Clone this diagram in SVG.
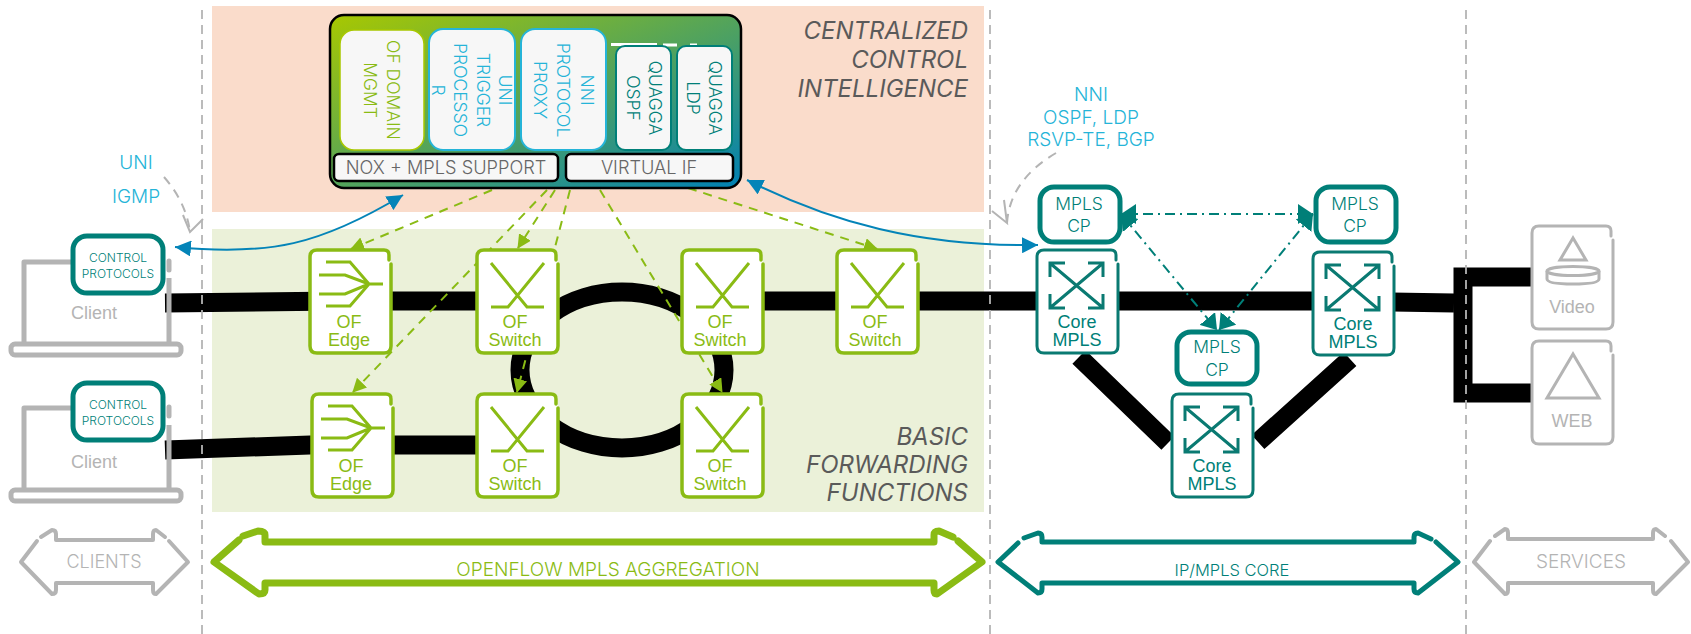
<svg xmlns="http://www.w3.org/2000/svg" width="1691" height="634" viewBox="0 0 1691 634">
<style>
text{font-family:Inter,"Open Sans","Liberation Sans",sans-serif;font-weight:300;text-anchor:middle}
.sans{font-family:"Liberation Sans",Arial,sans-serif;font-weight:400;font-size:18px}
.title{font-style:italic;font-size:24px;font-weight:400;fill:#5a5a5a;text-anchor:end}
.blab{font-size:19px;fill:#25b4d8}
.vtxt{font-size:17.5px;dominant-baseline:central}
.g{fill:#8abb14}.t{fill:#007f78}.gr{fill:#b4b4b4}.b{fill:#25b4d8}.d{fill:#666}
.node{fill:#fff;stroke-linejoin:round}
.ofn{stroke:#8abb14;stroke-width:3.5;fill:none;stroke-linecap:round}
.cn{stroke:#0a7a72;stroke-width:3;fill:none;stroke-linecap:round}
.sn{stroke:#b4b4b4;stroke-width:3;fill:none;stroke-linecap:round}
.cpb{fill:#fff;stroke:#007f78;stroke-width:5}
.inner{fill:#f7f7f7}
.blk{fill:none;stroke:#000;stroke-width:19}
.dash{fill:none;stroke:#b4b4b4;stroke-width:1.8;stroke-dasharray:9 6}
.gd{fill:none;stroke:#8abb14;stroke-width:2;stroke-dasharray:9 7}
.td{fill:none;stroke:#007f78;stroke-width:2;stroke-dasharray:10 5 2 5;marker-start:url(#ts);marker-end:url(#te)}
.bl{fill:none;stroke:#0484b8;stroke-width:2;marker-start:url(#bs);marker-end:url(#be)}
.gc{fill:none;stroke:#b4b4b4;stroke-width:2;stroke-dasharray:9 7}
.ga{fill:none;stroke:#b4b4b4;stroke-width:2}
.lap{fill:none;stroke:#b4b4b4;stroke-width:5;stroke-linejoin:round}
</style>
<defs>
<linearGradient id="ctl" x1="0" y1="0" x2="1" y2="1"><stop offset="0" stop-color="#a8c800"/><stop offset="1" stop-color="#0080b4"/></linearGradient>
<marker id="ge" viewBox="0 0 14 14" refX="13" refY="7" markerWidth="14" markerHeight="14" markerUnits="userSpaceOnUse" orient="auto"><path d="M0 0L14 7L0 14Z" fill="#8abb14"/></marker>
<marker id="te" viewBox="0 0 15 20" refX="15" refY="10" markerWidth="15" markerHeight="20" markerUnits="userSpaceOnUse" orient="auto"><path d="M0 0L15 10L0 20Z" fill="#007f78"/></marker>
<marker id="ts" viewBox="0 0 15 20" refX="0" refY="10" markerWidth="15" markerHeight="20" markerUnits="userSpaceOnUse" orient="auto"><path d="M15 0L0 10L15 20Z" fill="#007f78"/></marker>
<marker id="be" viewBox="0 0 16 16" refX="16" refY="8" markerWidth="16" markerHeight="16" markerUnits="userSpaceOnUse" orient="auto"><path d="M0 0L16 8L0 16Z" fill="#0484b8"/></marker>
<marker id="bs" viewBox="0 0 16 16" refX="0" refY="8" markerWidth="16" markerHeight="16" markerUnits="userSpaceOnUse" orient="auto"><path d="M16 0L0 8L16 16Z" fill="#0484b8"/></marker>
<path id="swi" d="M15 14L51 58H68M68 14L32 58H15" fill="none" stroke="#8abb14" stroke-width="3"/>
<path id="edg" d="M17 13H41L60 35H74M10 26H36L60 35M10 45H36L60 35M17 57H41L60 35" fill="none" stroke="#8abb14" stroke-width="3"/>
<path id="box" d="M80 11V6Q80 1 75 1H8Q1 1 1 8V97Q1 104 8 104H75Q82 104 82 97V15"/>
<g id="cro" fill="none" stroke="#0a7a72" stroke-width="3"><path d="M15 15L66 58M66 15L15 58M14 28V14H29M52 14H67V28M14 45V59H29M52 59H67V45"/></g>
</defs>

<rect x="212" y="6" width="772" height="206" fill="#fadccb"/>
<rect x="212" y="229" width="772" height="283" fill="#ebf1d9"/>

<g id="backbone">
<path class="blk" d="M165 303L340 301H480M760 301H1060L1330 301L1454 303"/>
<path class="blk" d="M165 450L310 445H480"/>
<ellipse class="blk" cx="622" cy="370" rx="102" ry="78"/>
<path class="blk" d="M1079 357L1168 443M1258 442L1350 359"/>
<path class="blk" d="M1531 277H1463V393H1531"/>
</g>

<g id="boundaries">
<path class="dash" d="M202 10V634M990 10V634M1466 10V634"/>
</g>

<g id="connectors">
<path class="gd" d="M492 190L351 249" marker-end="url(#ge)"/>
<path class="gd" d="M555 190L518 248" marker-end="url(#ge)"/>
<path class="gd" d="M570 190L517 392" marker-end="url(#ge)"/>
<path class="gd" d="M547 190L353 392" marker-end="url(#ge)"/>
<path class="gd" d="M600 190L722 392" marker-end="url(#ge)"/>
<path class="gd" d="M688 188L877 249" marker-end="url(#ge)"/>
<path class="bl" d="M175 247C270 256 320 245 403 195"/>
<path class="bl" d="M747 180C830 222 920 247 1038 245"/>
<path class="td" d="M1121 214H1313"/>
<path class="td" d="M1121 214L1217 330"/>
<path class="td" d="M1313 214L1219 330"/>
<path class="gc" d="M164 177Q186 202 190 232"/>
<path class="ga" d="M183 215L190 232L203 219"/>
<path class="gc" d="M1056 153Q1010 180 1007 223"/>
<path class="ga" d="M1004 200L1007 223L992 211"/>
</g>

<g id="controller">
<rect x="330" y="15" width="411" height="173" rx="14" fill="url(#ctl)" stroke="#000" stroke-width="2.5"/>
<path d="M611 44.500H657M663 45H677M690 45H697" stroke="#fff" stroke-width="3" fill="none"/>
<rect class="inner" x="340" y="30" width="84" height="120" rx="14" stroke="#a8c800" stroke-width="1.5"/>
<rect class="inner" x="429" y="29" width="86" height="121" rx="14" stroke="#25b4d8" stroke-width="2"/>
<rect class="inner" x="521" y="29" width="85" height="121" rx="14" stroke="#25b4d8" stroke-width="2"/>
<rect class="inner" x="616" y="46" width="55" height="104" rx="9" stroke="#007f78" stroke-width="2"/>
<rect class="inner" x="677" y="46" width="55" height="104" rx="9" stroke="#007f78" stroke-width="2"/>
<rect class="inner" x="334" y="154" width="224" height="27" rx="5" stroke="#000" stroke-width="2.5"/>
<rect class="inner" x="566" y="154" width="167" height="27" rx="5" stroke="#000" stroke-width="2.5"/>
<text class="vtxt g" transform="translate(393 90) rotate(90)">OF DOMAIN</text>
<text class="vtxt g" transform="translate(370 90) rotate(90)">MGMT</text>
<text class="vtxt b" transform="translate(505 90) rotate(90)">UNI</text>
<text class="vtxt b" transform="translate(483 90) rotate(90)">TRIGGER</text>
<text class="vtxt b" transform="translate(460 90) rotate(90)">PROCESSO</text>
<text class="vtxt b" transform="translate(438 90) rotate(90)">R</text>
<text class="vtxt b" transform="translate(587 90) rotate(90)">NNI</text>
<text class="vtxt b" transform="translate(563 90) rotate(90)">PROTOCOL</text>
<text class="vtxt b" transform="translate(540 90) rotate(90)">PROXY</text>
<text class="vtxt t" transform="translate(655 98) rotate(90)">QUAGGA</text>
<text class="vtxt t" transform="translate(633 98) rotate(90)">OSPF</text>
<text class="vtxt t" transform="translate(715 98) rotate(90)">QUAGGA</text>
<text class="vtxt t" transform="translate(693 98) rotate(90)">LDP</text>
<text class="d" x="446" y="174" font-size="18.200">NOX + MPLS SUPPORT</text>
<text class="d" x="649" y="174" font-size="18.200">VIRTUAL IF</text>
</g>

<g id="titles">
<text class="title" x="968" y="39">CENTRALIZED</text>
<text class="title" x="968" y="68">CONTROL</text>
<text class="title" x="968" y="97">INTELLIGENCE</text>
<text class="title" x="968" y="445">BASIC</text>
<text class="title" x="968" y="473">FORWARDING</text>
<text class="title" x="968" y="501">FUNCTIONS</text>
</g>

<g id="labels">
<text class="blab" x="136" y="169">UNI</text>
<text class="blab" x="136" y="203">IGMP</text>
<text class="blab" x="1091" y="101">NNI</text>
<text class="blab" x="1091" y="124">OSPF, LDP</text>
<text class="blab" x="1091" y="146">RSVP-TE, BGP</text>
</g>

<g id="client1">
<path class="lap" d="M72 262H24V343M169 278V343"/>
<path class="lap" d="M169 261V270" stroke-linecap="round"/>
<rect x="11" y="344" width="170" height="11" rx="4" class="lap"/>
<rect class="cpb" x="73" y="236" width="90" height="57" rx="14"/>
<text class="t" x="118" y="262" font-size="12">CONTROL</text>
<text class="t" x="118" y="278" font-size="12">PROTOCOLS</text>
<text class="sans gr" x="94" y="319">Client</text>
</g>
<g id="client2">
<path class="lap" d="M72 408H24V489M169 425V489"/>
<path class="lap" d="M169 407V416" stroke-linecap="round"/>
<rect x="11" y="490" width="170" height="11" rx="4" class="lap"/>
<rect class="cpb" x="73" y="383" width="90" height="57" rx="14"/>
<text class="t" x="118" y="409" font-size="12">CONTROL</text>
<text class="t" x="118" y="425" font-size="12">PROTOCOLS</text>
<text class="sans gr" x="94" y="468">Client</text>
</g>

<g id="of-edge-1" transform="translate(309 249)"><rect class="node" width="82" height="104" rx="7"/><use href="#box" class="ofn"/><use href="#edg"/><text class="sans g" x="40" y="79">OF</text><text class="sans g" x="40" y="97">Edge</text></g>
<g id="of-edge-2" transform="translate(311 393)"><rect class="node" width="82" height="104" rx="7"/><use href="#box" class="ofn"/><use href="#edg"/><text class="sans g" x="40" y="79">OF</text><text class="sans g" x="40" y="97">Edge</text></g>
<g id="of-switch-1" transform="translate(476 249)"><rect class="node" width="82" height="104" rx="7"/><use href="#box" class="ofn"/><use href="#swi"/><text class="sans g" x="39" y="79">OF</text><text class="sans g" x="39" y="97">Switch</text></g>
<g id="of-switch-2" transform="translate(681 249)"><rect class="node" width="82" height="104" rx="7"/><use href="#box" class="ofn"/><use href="#swi"/><text class="sans g" x="39" y="79">OF</text><text class="sans g" x="39" y="97">Switch</text></g>
<g id="of-switch-3" transform="translate(836 249)"><rect class="node" width="82" height="104" rx="7"/><use href="#box" class="ofn"/><use href="#swi"/><text class="sans g" x="39" y="79">OF</text><text class="sans g" x="39" y="97">Switch</text></g>
<g id="of-switch-4" transform="translate(476 393)"><rect class="node" width="82" height="104" rx="7"/><use href="#box" class="ofn"/><use href="#swi"/><text class="sans g" x="39" y="79">OF</text><text class="sans g" x="39" y="97">Switch</text></g>
<g id="of-switch-5" transform="translate(681 393)"><rect class="node" width="82" height="104" rx="7"/><use href="#box" class="ofn"/><use href="#swi"/><text class="sans g" x="39" y="79">OF</text><text class="sans g" x="39" y="97">Switch</text></g>

<g id="core-a" transform="translate(1036 249)"><rect class="node" width="82" height="104" rx="7"/><use href="#box" class="cn"/><use href="#cro"/><text class="sans t" x="41" y="79">Core</text><text class="sans t" x="41" y="97">MPLS</text></g>
<g id="core-b" transform="translate(1312 251)"><rect class="node" width="82" height="104" rx="7"/><use href="#box" class="cn"/><use href="#cro"/><text class="sans t" x="41" y="79">Core</text><text class="sans t" x="41" y="97">MPLS</text></g>
<g id="core-c" transform="translate(1171 393)"><rect class="node" width="82" height="104" rx="7"/><use href="#box" class="cn"/><use href="#cro"/><text class="sans t" x="41" y="79">Core</text><text class="sans t" x="41" y="97">MPLS</text></g>

<g id="cp-a"><rect class="cpb" x="1040" y="187" width="80" height="55" rx="14"/><text class="t" x="1079" y="210" font-size="17.500">MPLS</text><text class="t" x="1079" y="232" font-size="17.500">CP</text></g>
<g id="cp-b"><rect class="cpb" x="1316" y="187" width="80" height="55" rx="14"/><text class="t" x="1355" y="210" font-size="17.500">MPLS</text><text class="t" x="1355" y="232" font-size="17.500">CP</text></g>
<g id="cp-c"><rect class="cpb" x="1177" y="332" width="80" height="52" rx="14"/><text class="t" x="1217" y="353" font-size="17.500">MPLS</text><text class="t" x="1217" y="376" font-size="17.500">CP</text></g>

<g id="video" transform="translate(1531 225)"><rect class="node" width="82" height="104" rx="7"/><use href="#box" class="sn"/>
<path d="M42 13L29 35H55Z" fill="none" stroke="#b4b4b4" stroke-width="3"/>
<path d="M16 46V54Q16 59 42 59Q68 59 68 54V46" fill="none" stroke="#b4b4b4" stroke-width="3"/><ellipse cx="42" cy="46" rx="26" ry="4.5" fill="none" stroke="#b4b4b4" stroke-width="3"/>
<text class="sans gr" x="41" y="88">Video</text></g>
<g id="web" transform="translate(1531 340)"><rect class="node" width="82" height="104" rx="7"/><use href="#box" class="sn"/>
<path d="M42 14L16 58H68Z" fill="none" stroke="#b4b4b4" stroke-width="3"/>
<text class="sans gr" x="41" y="87">WEB</text></g>

<g id="band-clients"><path d="M169 541L188 562L156 594Q153 594 153 590V583H56V590Q56 594 52 594L21 562L37 541M41 537L52 530Q56 530 56 534V540H153V534Q153 530 156 530L165 537" fill="none" stroke="#b4b4b4" stroke-width="4" stroke-linejoin="round" stroke-linecap="round"/><text class="gr" x="104" y="568" font-size="18">CLIENTS</text></g>
<g id="band-aggregation"><path d="M958 541L982 562L937 594Q934 594 934 590V583H265V590Q265 594 259 594L214 562L239 540M243 536L258 531Q265 531 265 535V542H934V535Q934 531 939 531L953 537" fill="none" stroke="#8abb14" stroke-width="7" stroke-linejoin="round" stroke-linecap="round"/><text class="g" x="608" y="576" font-size="19">OPENFLOW MPLS AGGREGATION</text></g>
<g id="band-core"><path d="M1436 542L1458 562L1418 593Q1414 593 1414 589V583H1042V589Q1042 593 1038 593L998 562L1018 543M1024 538L1038 533Q1042 533 1042 537V542H1414V537Q1414 533 1418 533L1431 539" fill="none" stroke="#007f78" stroke-width="5" stroke-linejoin="round" stroke-linecap="round"/><text class="t" x="1232" y="576" font-size="16.500">IP/MPLS CORE</text></g>
<g id="band-services"><path d="M1671 541L1688 562L1656 594Q1653 594 1653 590V583H1508V590Q1508 594 1505 594L1474 562L1490 541M1495 536L1505 529Q1508 529 1508 533V539H1653V533Q1653 529 1656 529L1665 536" fill="none" stroke="#b4b4b4" stroke-width="4" stroke-linejoin="round" stroke-linecap="round"/><text class="gr" x="1581" y="568" font-size="19">SERVICES</text></g>
</svg>
